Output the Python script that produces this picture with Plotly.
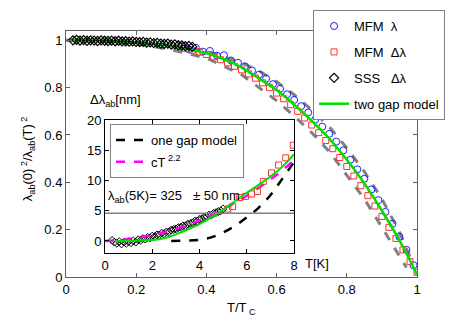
import plotly.graph_objects as go

# ---- main panel: lambda_ab(0)^2 / lambda_ab(T)^2 versus T/Tc ----
sss_t = [0.02, 0.03, 0.04, 0.05, 0.06, 0.07, 0.08, 0.09, 0.10, 0.11, 0.12, 0.13,
         0.14, 0.15, 0.16, 0.17, 0.18, 0.19, 0.20, 0.21, 0.22, 0.23, 0.24, 0.25,
         0.26, 0.27, 0.28, 0.29, 0.30, 0.31, 0.32, 0.33, 0.34, 0.35, 0.36]
sss_rho = [1.0, 1.002, 0.999, 1.001, 0.998, 1.0, 0.999, 0.997, 1.0, 0.998, 0.997, 0.999,
           0.996, 0.998, 0.995, 0.996, 0.994, 0.995, 0.993, 0.992, 0.993, 0.99, 0.991, 0.988,
           0.989, 0.986, 0.985, 0.986, 0.982, 0.983, 0.979, 0.978, 0.975, 0.976, 0.972]

mfm_lam_t = [0.33, 0.35, 0.37, 0.39, 0.41, 0.43, 0.45, 0.47, 0.49, 0.51, 0.53, 0.55,
             0.57, 0.59, 0.61, 0.63, 0.65, 0.67, 0.69, 0.71, 0.73, 0.75, 0.77, 0.79,
             0.81, 0.83, 0.85, 0.87, 0.89, 0.91, 0.93, 0.95, 0.97, 0.99]
mfm_lam_rho = [0.975, 0.962, 0.968, 0.952, 0.955, 0.935, 0.937, 0.915, 0.905, 0.89, 0.872, 0.855,
               0.838, 0.815, 0.795, 0.772, 0.748, 0.722, 0.695, 0.665, 0.635, 0.605, 0.572, 0.535,
               0.495, 0.455, 0.415, 0.37, 0.325, 0.275, 0.225, 0.17, 0.115, 0.05]

mfm_dlam_t = [0.34, 0.36, 0.38, 0.40, 0.42, 0.44, 0.46, 0.48, 0.50, 0.52, 0.54, 0.56,
              0.58, 0.60, 0.62, 0.64, 0.66, 0.68, 0.70, 0.72, 0.74, 0.76, 0.78, 0.80,
              0.82, 0.84, 0.86, 0.88, 0.90, 0.92, 0.94, 0.96, 0.98, 1.0]
mfm_dlam_rho = [0.965, 0.958, 0.95, 0.94, 0.93, 0.918, 0.905, 0.89, 0.875, 0.858, 0.84, 0.82,
                0.8, 0.777, 0.753, 0.728, 0.7, 0.672, 0.642, 0.61, 0.577, 0.542, 0.505, 0.467,
                0.427, 0.386, 0.344, 0.3, 0.256, 0.21, 0.163, 0.115, 0.066, 0.02]

two_gap_t = [0.02, 0.1, 0.2, 0.3, 0.4, 0.45, 0.5, 0.55, 0.6, 0.65, 0.7, 0.75,
             0.8, 0.85, 0.9, 0.95, 0.98, 1.0]
two_gap_rho = [1.0, 0.998, 0.99, 0.975, 0.945, 0.92, 0.886, 0.838, 0.79, 0.728, 0.66, 0.585,
               0.495, 0.395, 0.28, 0.155, 0.07, 0.01]

band_hi_t = [0.0, 0.1, 0.2, 0.3, 0.4, 0.5, 0.55, 0.6, 0.65, 0.7, 0.75, 0.8, 0.85, 0.9, 0.95, 0.99]
band_hi_rho = [1.0, 1.0, 0.993, 0.978, 0.955, 0.905, 0.87, 0.825, 0.77, 0.705, 0.635, 0.545,
               0.445, 0.33, 0.19, 0.05]
band_lo_t = [0.0, 0.1, 0.2, 0.3, 0.4, 0.5, 0.55, 0.6, 0.65, 0.7, 0.75, 0.8, 0.85, 0.9, 0.95, 0.97]
band_lo_rho = [1.0, 0.995, 0.985, 0.96, 0.925, 0.855, 0.8, 0.745, 0.68, 0.61, 0.53, 0.43,
               0.33, 0.21, 0.09, 0.04]

# ---- inset: delta lambda_ab (nm) versus T (K) ----
ins_sss_T = [0.3, 0.4, 0.5, 0.6, 0.7, 0.8, 0.9, 1.0, 1.1, 1.2, 1.3, 1.4, 1.5, 1.6, 1.7, 1.8,
             1.9, 2.0, 2.1, 2.2, 2.3, 2.4, 2.5, 2.6, 2.7, 2.8, 2.9, 3.0, 3.1, 3.2, 3.3, 3.4,
             3.5, 3.6, 3.7, 3.8, 3.9, 4.0, 4.1, 4.2, 4.3, 4.4, 4.5, 4.6, 4.7, 4.8, 4.9, 5.0]
ins_sss_dl = [0.1, -0.2, -0.4, -0.1, -0.5, -0.2, -0.4, -0.1, -0.3, 0.0, -0.2, 0.2, 0.1, 0.4, 0.3, 0.6,
              0.5, 0.8, 0.7, 1.0, 1.0, 1.3, 1.2, 1.5, 1.5, 1.8, 1.9, 2.0, 2.2, 2.3, 2.5, 2.5,
              2.8, 2.9, 3.0, 3.3, 3.3, 3.6, 3.7, 3.9, 4.0, 4.3, 4.3, 4.6, 4.7, 4.9, 5.0, 5.3]

ins_mfm_T = [5.2, 5.4, 5.7, 5.95, 6.2, 6.45, 6.7, 7.05, 7.35, 7.65, 7.97]
ins_mfm_dl = [5.3, 5.7, 7.2, 7.4, 7.8, 8.2, 9.9, 11.3, 12.6, 13.8, 15.9]

ins_two_gap_T = [0.4, 1.0, 1.5, 2.0, 2.5, 3.0, 3.5, 4.0, 4.5, 5.0, 5.5, 6.0, 6.5, 7.0, 7.5, 8.0]
ins_two_gap_dl = [0.0, 0.0, 0.1, 0.15, 0.45, 1.1, 1.9, 2.8, 3.9, 5.2, 6.6, 8.0, 9.3, 10.7, 12.3, 14.4]

one_gap_T = [2.8, 3.5, 4.0, 4.5, 5.0, 5.5, 6.0, 6.5, 7.0, 7.5, 8.0]
one_gap_dl = [0.0, 0.05, 0.2, 0.6, 1.4, 2.5, 3.9, 5.5, 7.6, 10.3, 13.1]

power_T = [0.0, 0.5, 1.0, 1.5, 2.0, 2.5, 3.0, 3.5, 4.0, 4.5, 5.0, 5.5, 6.0, 6.5, 7.0, 7.5, 8.0]
power_dl = [0.0, 0.1, 0.35, 0.65, 1.0, 1.45, 2.0, 2.65, 3.4, 4.3, 5.3, 6.35, 7.5, 8.8, 10.2, 11.7, 13.4]

lambda_line = 4.6

FONT = "Liberation Sans"
NB = "\u00a0"

fig = go.Figure()

# main panel traces
for bt, br in [(band_hi_t, band_hi_rho), (band_lo_t, band_lo_rho)]:
    fig.add_trace(go.Scatter(x=bt, y=br, mode="lines", showlegend=False,
                             line=dict(color="#808080", width=3, dash="dash")))
fig.add_trace(go.Scatter(x=mfm_lam_t, y=mfm_lam_rho, mode="markers", name="MFM" + NB * 2 + "λ",
                         legendgroup="a", legendrank=1,
                         marker=dict(symbol="circle-open", color="#2020ff", size=7, line=dict(width=1))))
fig.add_trace(go.Scatter(x=mfm_dlam_t, y=mfm_dlam_rho, mode="markers", name="MFM" + NB * 2 + "Δλ",
                         legendgroup="b", legendrank=2,
                         marker=dict(symbol="square-open", color="#ff3030", size=6, line=dict(width=1))))
fig.add_trace(go.Scatter(x=two_gap_t, y=two_gap_rho, mode="lines", name="two gap model",
                         legendgroup="d", legendrank=4,
                         line=dict(color="#00e000", width=2.5, shape="spline")))
fig.add_trace(go.Scatter(x=sss_t, y=sss_rho, mode="markers", name="SSS" + NB * 3 + "Δλ",
                         legendgroup="c", legendrank=3,
                         marker=dict(symbol="diamond-open", color="black", size=7, line=dict(width=1.2))))

# inset traces
fig.add_trace(go.Scatter(x=one_gap_T, y=one_gap_dl, mode="lines", name="one gap model",
                         xaxis="x2", yaxis="y2", legend="legend2", legendgroup="e", legendrank=1,
                         line=dict(color="black", width=2.5, dash="dash", shape="spline")))
fig.add_trace(go.Scatter(x=ins_sss_T, y=ins_sss_dl, mode="markers", showlegend=False,
                         xaxis="x2", yaxis="y2",
                         marker=dict(symbol="diamond-open", color="black", size=6, line=dict(width=1))))
fig.add_trace(go.Scatter(x=power_T, y=power_dl, mode="lines", name="cT<sup> 2.2</sup>",
                         xaxis="x2", yaxis="y2", legend="legend2", legendgroup="f", legendrank=2,
                         line=dict(color="#ff00ff", width=2.5, dash="dash", shape="spline")))
fig.add_trace(go.Scatter(x=ins_mfm_T, y=ins_mfm_dl, mode="markers", showlegend=False,
                         xaxis="x2", yaxis="y2",
                         marker=dict(symbol="square-open", color="#ff3030", size=6, line=dict(width=1))))
fig.add_trace(go.Scatter(x=ins_two_gap_T, y=ins_two_gap_dl, mode="lines", showlegend=False,
                         xaxis="x2", yaxis="y2",
                         line=dict(color="#00e000", width=2, shape="spline")))

fig.add_shape(type="line", xref="x2 domain", yref="y2", x0=0, x1=1, y0=lambda_line, y1=lambda_line,
              line=dict(color="#808080", width=1.5))

axis_common = dict(showgrid=False, zeroline=False, showline=True, mirror="ticks", automargin=False,
                   ticks="inside", ticklen=4, tickfont=dict(size=13, color="black"))

fig.update_layout(
    width=457, height=335, autosize=False,
    margin=dict(l=0, r=0, t=0, b=0),
    paper_bgcolor="white", plot_bgcolor="white",
    font=dict(family=FONT, size=13, color="black"),
    xaxis=dict(domain=[0.1444, 0.9125], range=[0, 1], tickvals=[0, 0.2, 0.4, 0.6, 0.8, 1],
               ticktext=["0", "0.2", "0.4", "0.6", "0.8", "1"], linecolor="#606060",
               tickcolor="#606060", **axis_common),
    yaxis=dict(domain=[0.173, 0.908], range=[0, 1.04], tickvals=[0, 0.2, 0.4, 0.6, 0.8, 1],
               ticktext=["0", "0.2", "0.4", "0.6", "0.8", "1"], linecolor="#606060",
               tickcolor="#606060", **axis_common),
    xaxis2=dict(domain=[0.2298, 0.6433], range=[0, 8], anchor="y2", tickvals=[0, 2, 4, 6, 8],
                linecolor="black", tickcolor="black", **axis_common),
    yaxis2=dict(domain=[0.2448, 0.6403], range=[-2, 20], anchor="x2", tickvals=[0, 5, 10, 15, 20],
                linecolor="black", tickcolor="black", **axis_common),
    legend=dict(x=0.685, y=0.970, xanchor="left", yanchor="top", bgcolor="white",
                bordercolor="#808080", borderwidth=1, tracegroupgap=6,
                font=dict(size=13), traceorder="grouped"),
    legend2=dict(x=0.2407, y=0.63, xanchor="left", yanchor="top", bgcolor="white",
                 bordercolor="#808080", borderwidth=1, tracegroupgap=2,
                 entrywidth=100, font=dict(size=13), traceorder="grouped"),
    annotations=[
        dict(text="λ<sub>ab</sub>(0)<sup> 2</sup>/λ<sub>ab</sub>(T)<sup> 2</sup>", textangle=-90,
             xref="paper", yref="paper", x=28 / 457, y=0.525, xanchor="center", yanchor="middle",
             showarrow=False, font=dict(size=13)),
        dict(text="T/T<sub> C</sub>", xref="paper", yref="paper", x=241 / 457, y=0.08,
             xanchor="center", yanchor="middle", showarrow=False, font=dict(size=13)),
        dict(text="Δλ<sub>ab</sub>[nm]", xref="paper", yref="paper", x=88 / 457, y=0.70,
             xanchor="left", yanchor="middle", showarrow=False, font=dict(size=13)),
        dict(text="T[K]", xref="paper", yref="paper", x=303 / 457, y=0.212,
             xanchor="left", yanchor="middle", showarrow=False, font=dict(size=13)),
        dict(text="λ<sub>ab</sub>(5K)= 325" + NB * 3 + "± 50 nm", xref="x2", yref="y2", x=0.05, y=7.4,
             xanchor="left", yanchor="middle", showarrow=False, font=dict(size=13)),
    ],
)

fig.write_html("out.html", config={"displayModeBar": False},
               post_script="document.body.style.margin = '0';")
